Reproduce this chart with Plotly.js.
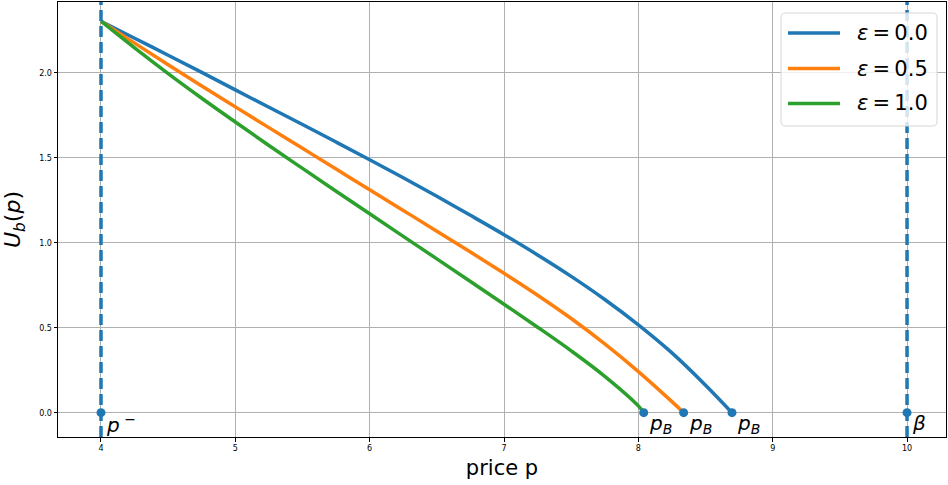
<!DOCTYPE html>
<html>
<head>
<meta charset="utf-8">
<script src="https://cdn.plot.ly/plotly-3.0.1.min.js"></script>
<style>html,body{margin:0;padding:0;background:#fff;}#chart{width:948px;height:485px;}</style>
</head>
<body>
<div id="chart"></div>
<script>
// ---- data ----
const epsLabels = ["0.0", "0.5", "1.0"];
const eps0_x = [4.0, 4.25, 4.5, 4.75, 5.0, 5.25, 5.5, 5.75, 6.0, 6.25, 6.5, 6.75, 7.0, 7.25, 7.5, 7.75, 8.0, 8.25, 8.5, 8.697];
const eps0_y = [2.303, 2.203, 2.103, 2.002, 1.899, 1.797, 1.695, 1.592, 1.488, 1.382, 1.273, 1.161, 1.047, 0.928, 0.802, 0.666, 0.517, 0.352, 0.162, 0.0];
const eps05_x = [4.0, 4.25, 4.5, 4.75, 5.0, 5.25, 5.5, 5.75, 6.0, 6.25, 6.5, 6.75, 7.0, 7.25, 7.5, 7.75, 8.0, 8.25, 8.337];
const eps05_y = [2.303, 2.174, 2.047, 1.922, 1.799, 1.677, 1.555, 1.433, 1.312, 1.190, 1.068, 0.945, 0.820, 0.691, 0.554, 0.405, 0.242, 0.065, 0.0];
const eps1_x = [4.0, 4.25, 4.5, 4.75, 5.0, 5.25, 5.5, 5.75, 6.0, 6.25, 6.5, 6.75, 7.0, 7.25, 7.5, 7.75, 8.0, 8.04];
const eps1_y = [2.303, 2.146, 1.995, 1.850, 1.710, 1.572, 1.437, 1.303, 1.170, 1.037, 0.905, 0.772, 0.638, 0.503, 0.364, 0.214, 0.040, 0.0];
const pB = [8.697, 8.337, 8.04];          // break-even prices p_B
const bounds = [4, 10];                    // p^- and beta
const boundLabels = ["<i>p</i><sup> −</sup>", "<i>β</i>"];
const pBLabel = "<i>p</i><sub><i>B</i></sub>";
const xTicks = [4, 5, 6, 7, 8, 9, 10];
const yTicks = [0.0, 0.5, 1.0, 1.5, 2.0];

const colors = ["#1f77b4", "#ff7f0e", "#2ca02c"];
const font = "DejaVu Sans, sans-serif";
const series = [[eps0_x, eps0_y], [eps05_x, eps05_y], [eps1_x, eps1_y]];

const traces = series.map((s, i) => ({
  type: "scatter", mode: "lines", x: s[0], y: s[1],
  name: "ε=" + epsLabels[i], showlegend: false,
  line: {color: colors[i], width: 3.5, shape: "spline", smoothing: 1}
}));

// points at p^-, beta and the p_B values
const ptsX = bounds.concat(pB);
traces.push({
  type: "scatter", mode: "markers",
  x: ptsX, y: ptsX.map(() => 0),
  marker: {color: "#1f77b4", size: 9}, showlegend: false, hoverinfo: "skip"
});

const shapes = bounds.map(b => ({
  type: "line", xref: "x", yref: "paper", x0: b, x1: b, y0: 0, y1: 1,
  line: {color: "#1f77b4", width: 3.5, dash: "11px,5px"}, layer: "above"
}));

// custom legend (matplotlib style) in paper coords
const lx0 = 0.8142, lx1 = 0.9899, ly0 = 0.7149, ly1 = 0.9747, rx = 0.005, ry = 0.01;
shapes.push({
  type: "path", xref: "paper", yref: "paper", layer: "above",
  path: `M ${lx0+rx} ${ly0} L ${lx1-rx} ${ly0} Q ${lx1} ${ly0} ${lx1} ${ly0+ry} L ${lx1} ${ly1-ry} Q ${lx1} ${ly1} ${lx1-rx} ${ly1} L ${lx0+rx} ${ly1} Q ${lx0} ${ly1} ${lx0} ${ly1-ry} L ${lx0} ${ly0+ry} Q ${lx0} ${ly0} ${lx0+rx} ${ly0} Z`,
  fillcolor: "rgba(255,255,255,0.8)", line: {color: "#d6d6d6", width: 1}
});
const legRows = [0.9287, 0.8471, 0.7667];
const annotations = [];
legRows.forEach((yy, i) => {
  shapes.push({type: "line", xref: "paper", yref: "paper", layer: "above",
    x0: 0.8221, x1: 0.8806, y0: yy, y1: yy, line: {color: colors[i], width: 3.5}});
  annotations.push({xref: "paper", yref: "paper", x: 0.8975, y: yy, xanchor: "left", yanchor: "middle",
    showarrow: false, text: "<i>ε</i>\u2009=\u2009" + epsLabels[i],
    font: {family: font, size: 21, color: "#000"}});
});

bounds.forEach((b, i) => annotations.push({
  x: b, y: 0, xref: "x", yref: "y", text: boundLabels[i], showarrow: false,
  xanchor: "left", yanchor: "top", xshift: 3, yshift: 4,
  font: {family: font, size: 20, color: "#000"}
}));
pB.forEach(p => annotations.push({
  x: p, y: 0, xref: "x", yref: "y", text: pBLabel, showarrow: false,
  xanchor: "left", yanchor: "top", xshift: 3, yshift: 4,
  font: {family: font, size: 20, color: "#000"}
}));

const layout = {
  width: 948, height: 485,
  margin: {l: 58, r: 2, t: 2, b: 48},
  paper_bgcolor: "#fff", plot_bgcolor: "#fff",
  font: {family: font, color: "#000"},
  showlegend: false,
  xaxis: {
    range: [3.68, 10.29], tickvals: xTicks, ticktext: xTicks.map(String),
    showgrid: true, gridcolor: "#b0b0b0", gridwidth: 1,
    showline: true, linecolor: "#000", linewidth: 1, mirror: true,
    ticks: "outside", ticklen: 3.5, tickcolor: "#000",
    tickfont: {family: font, size: 8, color: "#000"}, zeroline: false,
    title: {text: "price p", font: {family: font, size: 21, color: "#000"}, standoff: 8}
  },
  yaxis: {
    range: [-0.143, 2.416], tickvals: yTicks, ticktext: yTicks.map(v => v.toFixed(1)),
    showgrid: true, gridcolor: "#b0b0b0", gridwidth: 1,
    showline: true, linecolor: "#000", linewidth: 1, mirror: true,
    ticks: "outside", ticklen: 3.5, tickcolor: "#000",
    tickfont: {family: font, size: 8, color: "#000"}, zeroline: false,
    title: {text: "<i>U</i><sub><i>b</i></sub>(<i>p</i>)", font: {family: font, size: 22, color: "#000"}, standoff: 12}
  },
  shapes: shapes,
  annotations: annotations
};

Plotly.newPlot("chart", traces, layout, {displayModeBar: false, staticPlot: true});
</script>
</body>
</html>
